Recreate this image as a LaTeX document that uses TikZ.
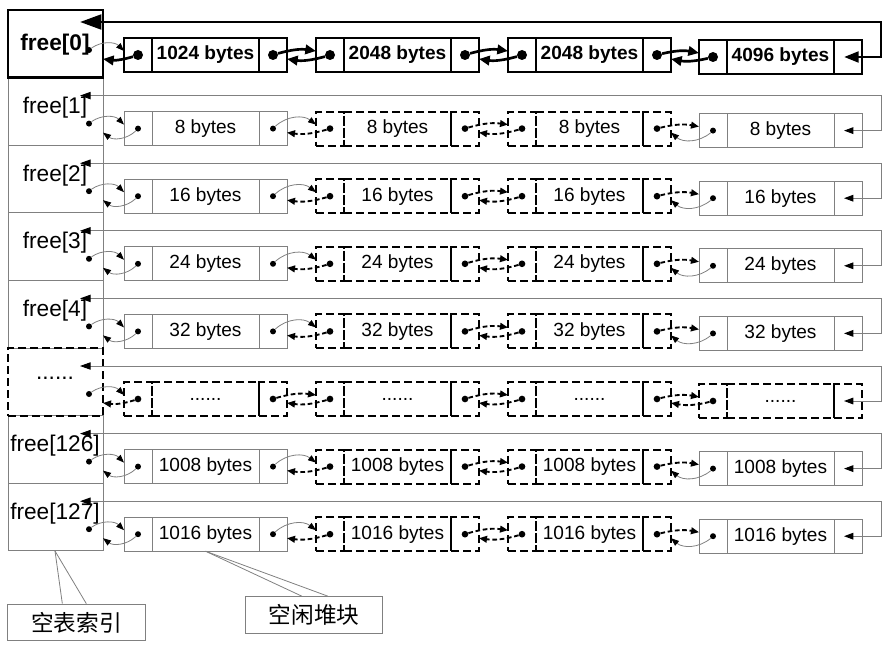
\documentclass[tikz,border=0pt]{standalone}
\usepackage{fontspec}
\setmainfont{Liberation Sans}
\newfontfamily\cjkfont{Noto Sans CJK SC}
\definecolor{lineGray}{HTML}{808080}
\usetikzlibrary{arrows.meta}
\newcommand\sixdots{......}

\begin{document}
\begin{tikzpicture}[x=0.75pt, y=-0.75pt,
      cell/.style={anchor=north west, minimum height=25.5pt, inner sep=0pt, outer sep=0pt,
                   font=\fontsize{14.3}{16}\selectfont},
      plaincell/.style={draw=lineGray, line width=0.75pt},
      dashcell/.style={draw=black, line width=1.6pt, dash pattern=on 6pt off 3pt},
      boldcell/.style={draw=black, line width=2.2pt, font=\fontsize{14.3}{16}\selectfont\bfseries},
      plaindot/.style={circle, fill, inner sep=0pt, minimum size=4.5pt},
      dashdot/.style={circle, fill, inner sep=0pt, minimum size=5pt},
      bolddot/.style={circle, fill, inner sep=0pt, minimum size=7.5pt},
      plainlink/.style={draw=lineGray, line width=0.6pt, bend left=40,
                        -{Triangle[length=6pt, width=4.5pt, color=black]}},
      dashlink/.style={draw=black, line width=1.4pt, dash pattern=on 3.5pt off 2pt, bend left=12,
                       -{Triangle[length=6pt, width=5pt]}},
      boldlink/.style={draw=black, line width=2pt, bend left=12, -{Triangle[length=8pt, width=7pt]}},
      plainret/.style={draw=lineGray, line width=0.75pt,
                       {Triangle[length=8pt, width=5.5pt, color=black]}-{Triangle[length=7pt, width=5pt, color=black]}},
      dashret/.style={plainret},
      boldret/.style={draw=black, line width=2.2pt,
                      {Triangle[length=16pt, width=11pt]}-{Triangle[length=11pt, width=8pt]}},
      plainlabel/.style={font=\fontsize{17}{20}\selectfont},
      dashlabel/.style={plainlabel},
      boldlabel/.style={font=\fontsize{17}{20}\selectfont\bfseries},
      callout/.style={draw=lineGray, line width=0.6pt},
      tag/.style={draw=lineGray, line width=0.75pt, minimum width=103pt, minimum height=27.5pt,
                  inner sep=0pt, font=\cjkfont\fontsize{17}{20}\selectfont}]
    \useasboundingbox (0,0) rectangle (892,649);

    % one row per free list, the bold and the dashed one last
    \foreach \r/\lab/\sa/\sm/\sd/\ka/\km/\kd in {
        1/free[1]/8 bytes/8 bytes/8 bytes/plain/dash/plain,
        2/free[2]/16 bytes/16 bytes/16 bytes/plain/dash/plain,
        3/free[3]/24 bytes/24 bytes/24 bytes/plain/dash/plain,
        4/free[4]/32 bytes/32 bytes/32 bytes/plain/dash/plain,
        6/free[126]/1008 bytes/1008 bytes/1008 bytes/plain/dash/plain,
        7/free[127]/1016 bytes/1016 bytes/1016 bytes/plain/dash/plain,
        5/\sixdots/\sixdots/\sixdots/\sixdots/dash/dash/dash,
        0/free[0]/1024 bytes/2048 bytes/4096 bytes/bold/bold/bold} {
      \pgfmathsetmacro\T{10+67.6*\r}
      \pgfmathsetmacro\btop{\T+34-6*(\r==0)}
      \pgfmathsetmacro\ly{\r==0 ? 45 : \T+30}
      \pgfmathsetmacro\ry{\T+18-6*(\r==0)}
      \pgfmathsetmacro\iy{\btop+12}
      \pgfmathsetmacro\by{\btop+21}

      % index cell
      \node[cell, \ka cell, minimum width=71.25pt, minimum height=50.7pt] (idx-\r) at (8,\T) {};
      \node[\ka label] (lab-\r) at (55,\ly) {\lab};
      \node[plaindot] (id-\r) at (89,\iy) {};

      % blocks
      \foreach \c/\bx/\k/\s/\dd in {1/124/\ka/\sa/0, 2/316/\km/\sm/0, 3/508/\km/\sm/0, 4/699/\kd/\sd/2} {
        \node[cell, \k cell, minimum width=21pt] (l-\r-\c) at (\bx,\btop+\dd) {};
        \node[cell, \k cell, minimum width=80.25pt] (m-\r-\c) at (\bx+28,\btop+\dd) {\s};
        \node[cell, \k cell, minimum width=21pt] (r-\r-\c) at (\bx+135,\btop+\dd) {};
        \node[\k dot] (ld-\r-\c) at (l-\r-\c.center) {};
        \ifnum\c<4 \node[\k dot] (rd-\r-\c) at (r-\r-\c.center) {}; \fi
      }

      % links
      \coordinate (iin-\r) at (103,\by);
      \draw[plainlink] (id-\r) to ([yshift=3pt]l-\r-1.west);
      \draw[\ka link] (ld-\r-1) to (iin-\r);
      \foreach \c/\n/\kx/\ky in {1/2/\ka/\km, 2/3/\km/\km, 3/4/\km/\kd} {
        \draw[\kx link] (rd-\r-\c) to ([yshift=3pt]l-\r-\n.west);
        \draw[\ky link] (ld-\r-\n) to ([yshift=-3pt]r-\r-\c.east);
      }

      % back to the index
      \coordinate (rin-\r) at (80,\ry);
      \coordinate (rturn-\r) at (881,\ry);
      \draw[\ka ret] (rin-\r) -- (rturn-\r) |- ([xshift=-3pt]r-\r-4.center);
    }

    % callouts
    \node[tag] (key) at (76.5,622.5) {空表索引};
    \node[tag] (heap) at (314,615) {空闲堆块};
    \coordinate (keytip) at (55,551);
    \draw[callout] (keytip) -- ([xshift=41.25pt]key.north west);
    \draw[callout] (keytip) -- ([xshift=59.25pt]key.north west);
    \draw[callout] (m-7-1.south) -- ([xshift=42.75pt]heap.north west);
    \draw[callout] (m-7-1.south) -- ([xshift=62.25pt]heap.north west);
  \end{tikzpicture}
\end{document}
